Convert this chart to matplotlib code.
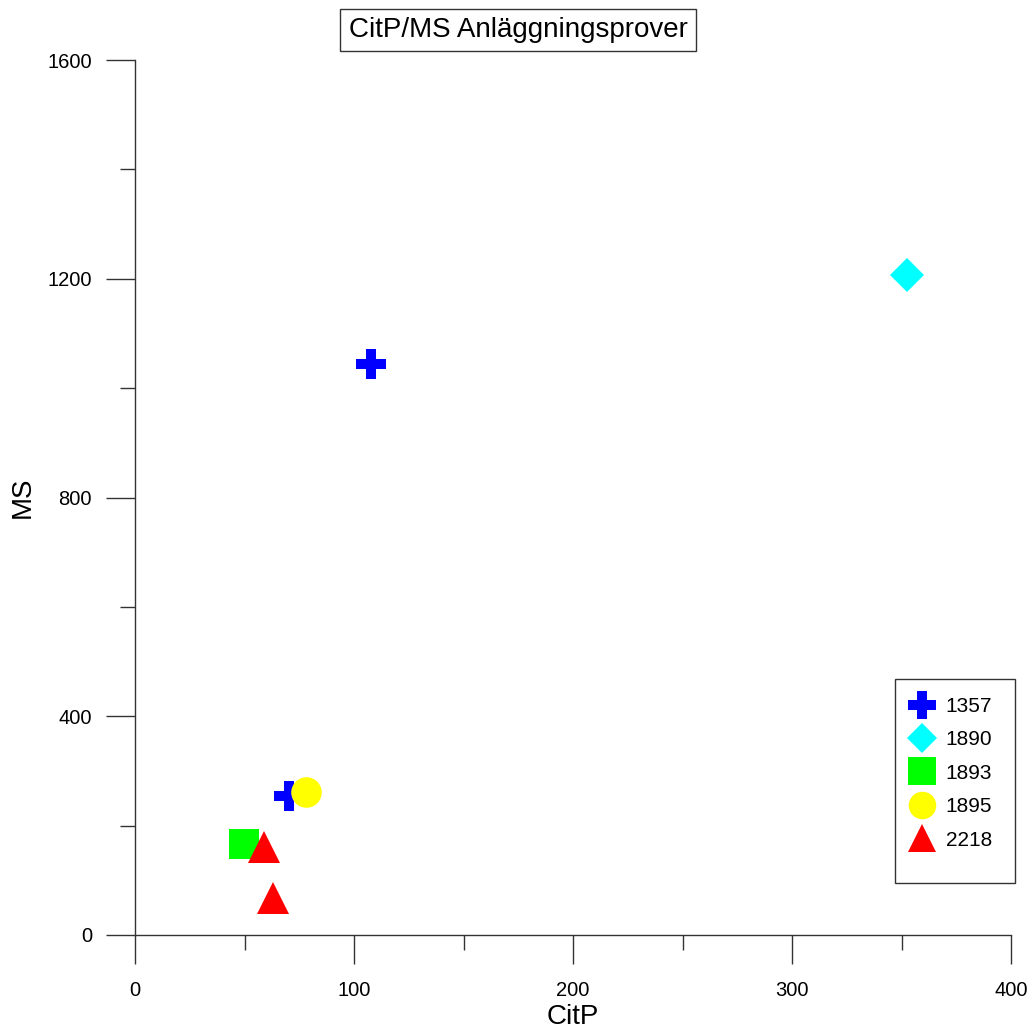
import matplotlib.pyplot as plt
from matplotlib.patches import Rectangle

plt.rcParams['font.family'] = ['Liberation Sans', 'DejaVu Sans']

# data
groups = ['1357', '1890', '1893', '1895', '2218']
citp = [[107.6, 70.3], [352.5], [49.8], [78.0], [58.9, 63.0]]
ms = [[1044, 255], [1207], [166], [261], [161, 68]]
markers = ['P', 'D', 's', 'o', '^']
colors = ['#0000ff', '#00ffff', '#00ff00', '#ffff00', '#ff0000']
msizes = [22, 17, 22, 22, 23]

fig = plt.figure(figsize=(10.32, 10.30), dpi=100)
ax = fig.add_axes([135/1032, 95/1030, 876/1032, 875/1030])

handles = []
for g, x, y, m, c, s in zip(groups, citp, ms, markers, colors, msizes):
    h, = ax.plot(x, y, linestyle='none', marker=m, color=c, markersize=s,
                 markeredgewidth=0, label=g, clip_on=False)
    handles.append(h)

ax.set_xlim(0, 400)
ax.set_ylim(0, 1600)
ax.set_xticks([0, 100, 200, 300, 400])
ax.set_xticks([50, 150, 250, 350], minor=True)
ax.set_yticks([0, 400, 800, 1200, 1600])
ax.set_yticks([200, 600, 1000, 1400], minor=True)

for side in ['top', 'right']:
    ax.spines[side].set_visible(False)
for side in ['left', 'bottom']:
    ax.spines[side].set_color('#333333')
    ax.spines[side].set_linewidth(1)

ax.tick_params(which='major', direction='out', length=21, width=1,
               color='#333333', labelsize=14.5)
ax.tick_params(axis='x', which='major', pad=12)
ax.tick_params(axis='y', which='major', pad=10)
ax.tick_params(which='minor', direction='out', length=11, width=1,
               color='#333333')

ax.set_xlabel('CitP', fontsize=20, va='center')
ax.set_ylabel('MS', fontsize=20, va='center')
ax.xaxis.set_label_coords(0.5, -82/875)
ax.yaxis.set_label_coords(-112/876, 0.5)

fig.text(518/1032, 1 - 30/1030, 'CitP/MS Anläggningsprover', fontsize=20,
         ha='center', va='center',
         bbox=dict(boxstyle='square,pad=0.3', facecolor='white',
                   edgecolor='#333333', linewidth=1))

# legend box
fig.patches.append(Rectangle((895/1032, 1 - 883/1030), 120/1032, 204/1030,
                             transform=fig.transFigure, facecolor='white',
                             edgecolor='#333333', linewidth=1, zorder=3))
leg = fig.legend(handles=handles, loc='upper left',
                 bbox_to_anchor=(910/1032, 1 - 697/1030), frameon=False,
                 fontsize=15, handlelength=1.12, handletextpad=0.6,
                 labelspacing=0.69, borderpad=0, borderaxespad=0,
                 markerscale=0.9)
leg.set_zorder(4)

fig.savefig('out.png', dpi=100)
